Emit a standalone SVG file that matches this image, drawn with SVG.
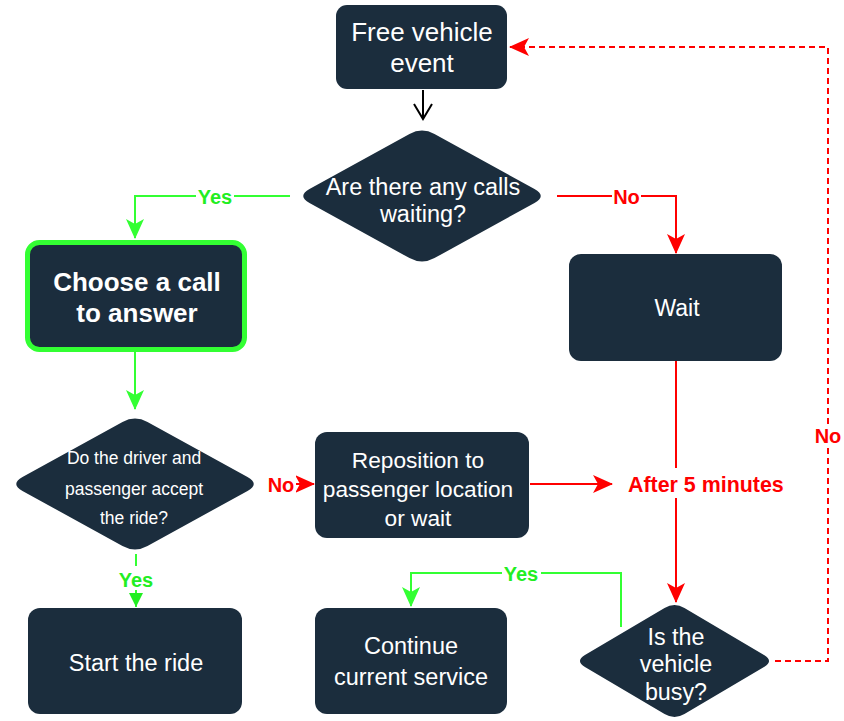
<svg xmlns="http://www.w3.org/2000/svg" width="844" height="721" viewBox="0 0 844 721">
  <style>
    .node { fill: #1b2d3d; }
    .txt { font-family: "Liberation Sans", Arial, sans-serif; fill: #ffffff; text-anchor: middle; }
    .red { stroke: #ff0000; stroke-width: 2; fill: none; }
    .green { stroke: #33ff33; stroke-width: 2; fill: none; }
    .black { stroke: #000000; stroke-width: 2; fill: none; }
    .dash { stroke-dasharray: 6 4; }
    .lbl { font-family: "Liberation Sans", Arial, sans-serif; font-size: 20px; font-weight: bold; text-anchor: middle; }
    .no { fill: #ff0000; }
    .yes { fill: #22ee22; }
    .bg { fill: #ffffff; }
  </style>
  <defs>
    <marker id="ah-red" viewBox="0 0 20 20" refX="19" refY="10" markerWidth="20" markerHeight="20" markerUnits="userSpaceOnUse" orient="auto">
      <path d="M0,1 L20,10 L0,19 L5,10 z" fill="#ff0000"/>
    </marker>
    <marker id="ah-green" viewBox="0 0 20 20" refX="19" refY="10" markerWidth="20" markerHeight="20" markerUnits="userSpaceOnUse" orient="auto">
      <path d="M0,1 L20,10 L0,19 L5,10 z" fill="#33ff33"/>
    </marker>
    <marker id="ah-green-block" viewBox="0 0 14 14" refX="14" refY="7" markerWidth="14" markerHeight="14" markerUnits="userSpaceOnUse" orient="auto">
      <path d="M0,0 L14,7 L0,14 z" fill="#22ee22"/>
    </marker>
    <marker id="ah-black-open" viewBox="0 0 18 20" refX="16" refY="10" markerWidth="18" markerHeight="20" markerUnits="userSpaceOnUse" orient="auto">
      <path d="M1,1 L16,10 L1,19" fill="none" stroke="#000000" stroke-width="2"/>
    </marker>
  </defs>

  <!-- connectors -->
  <g id="connectors">
    <line class="black" x1="423" y1="90" x2="423" y2="119" marker-end="url(#ah-black-open)"/>
    <polyline class="green" points="290,196 135,196 135,238" marker-end="url(#ah-green)"/>
    <polyline class="red" points="557,196 676,196 676,253" marker-end="url(#ah-red)"/>
    <line class="green" x1="135" y1="352" x2="135" y2="409" marker-end="url(#ah-green)"/>
    <line class="red" x1="270" y1="484" x2="314" y2="484" marker-end="url(#ah-red)"/>
    <line class="green" x1="136" y1="554" x2="136" y2="607" marker-end="url(#ah-green-block)"/>
    <line class="red" x1="530" y1="484" x2="612" y2="484" marker-end="url(#ah-red)"/>
    <line class="red" x1="676" y1="361" x2="676" y2="602" marker-end="url(#ah-red)"/>
    <polyline class="green" points="621,627 621,573 411,573 411,606" marker-end="url(#ah-green)"/>
    <polyline class="red dash" points="775,661 828,661 828,47 510,47" marker-end="url(#ah-red)"/>

    <!-- edge labels -->
    <rect class="bg" x="196" y="186" width="38" height="20"/>
    <text class="lbl yes" x="215" y="204">Yes</text>
    <rect class="bg" x="612" y="186" width="29" height="20"/>
    <text class="lbl no" x="626.5" y="204">No</text>
    <rect class="bg" x="264" y="472" width="32" height="24"/>
    <text class="lbl no" x="281" y="492">No</text>
    <rect class="bg" x="117" y="566" width="38" height="24"/>
    <text class="lbl yes" x="136" y="587">Yes</text>
    <rect class="bg" x="502" y="563" width="39" height="20"/>
    <text class="lbl yes" x="521" y="581">Yes</text>
    <rect class="bg" x="814" y="425" width="28" height="23"/>
    <text class="lbl no" x="828" y="443">No</text>
    <rect class="bg" x="624" y="468" width="166" height="30"/>
    <text class="lbl no" x="628" y="492" style="text-anchor:start;font-size:21.4px">After 5 minutes</text>
  </g>

  <g id="free-vehicle-event">
    <rect class="node" x="336" y="5" width="171" height="84" rx="11"/>
    <text class="txt" x="422" y="41" font-size="26">Free vehicle</text>
    <text class="txt" x="422" y="72" font-size="26">event</text>
  </g>

  <g id="calls-waiting">
    <path class="node" d="M409.5,133.9 Q422,127 434.5,133.9 L534.5,189.1 Q547,196 534.5,202.9 L434.5,258.1 Q422,265 409.5,258.1 L309.5,202.9 Q297,196 309.5,189.1 Z"/>
    <text class="txt" x="423" y="195" font-size="23.5">Are there any calls</text>
    <text class="txt" x="423" y="221.5" font-size="23.5">waiting?</text>
  </g>

  <g id="choose-call">
    <rect class="node" x="27.5" y="242.5" width="217" height="107" rx="12" stroke="#33ff33" stroke-width="5"/>
    <text class="txt" x="137" y="291" font-size="26" font-weight="bold">Choose a call</text>
    <text class="txt" x="137" y="322" font-size="26" font-weight="bold">to answer</text>
  </g>

  <g id="wait">
    <rect class="node" x="569" y="254" width="213" height="107" rx="12"/>
    <text class="txt" x="677" y="316" font-size="23">Wait</text>
  </g>

  <g id="accept-ride">
    <path class="node" d="M122.5,421.9 Q135,415 147.5,421.9 L247.5,477.1 Q260,484 247.5,490.9 L147.5,546.1 Q135,553 122.5,546.1 L22.5,490.9 Q10,484 22.5,477.1 Z"/>
    <text class="txt" x="134" y="464" font-size="17.5">Do the driver and</text>
    <text class="txt" x="134" y="495" font-size="17.5">passenger accept</text>
    <text class="txt" x="134" y="524" font-size="17.5">the ride?</text>
  </g>

  <g id="reposition">
    <rect class="node" x="315" y="432" width="214" height="106" rx="12"/>
    <text class="txt" x="418" y="468" font-size="22.7">Reposition to</text>
    <text class="txt" x="418" y="497" font-size="22.7">passenger location</text>
    <text class="txt" x="418" y="526" font-size="22.7">or wait</text>
  </g>

  <g id="start-ride">
    <rect class="node" x="28" y="608" width="214" height="106" rx="12"/>
    <text class="txt" x="136" y="671" font-size="23.5">Start the ride</text>
  </g>

  <g id="continue-service">
    <rect class="node" x="315" y="608" width="192" height="106" rx="12"/>
    <text class="txt" x="411" y="654" font-size="23.5">Continue</text>
    <text class="txt" x="411" y="685" font-size="23.5">current service</text>
  </g>

  <g id="vehicle-busy">
    <path class="node" d="M664.55,607.9 Q674.5,602 684.45,607.9 L764.05,655.1 Q774,661 764.05,666.9 L684.45,714.1 Q674.5,720 664.55,714.1 L584.95,666.9 Q575,661 584.95,655.1 Z"/>
    <text class="txt" x="676" y="645" font-size="23.3">Is the</text>
    <text class="txt" x="676" y="672" font-size="23.3">vehicle</text>
    <text class="txt" x="676" y="700" font-size="23.3">busy?</text>
  </g>
</svg>
